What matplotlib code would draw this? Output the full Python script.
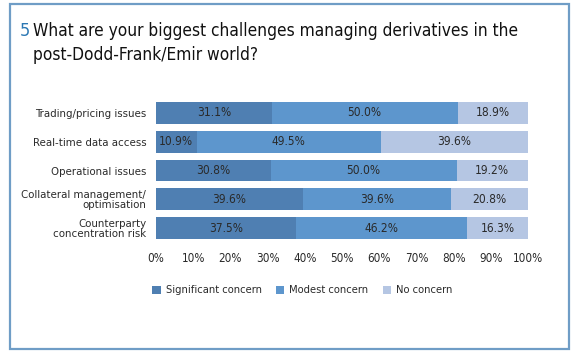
import matplotlib.pyplot as plt
from matplotlib.patches import Rectangle
import numpy as np

plt.rcParams['font.family'] = ['DejaVu Sans']
plt.rcParams['font.stretch'] = 'condensed'

categories = ["Trading/pricing issues", "Real-time data access", "Operational issues",
              "Collateral management/\noptimisation", "Counterparty\nconcentration risk"]
significant = [31.1, 10.9, 30.8, 39.6, 37.5]
modest = [50.0, 49.5, 50.0, 39.6, 46.2]
no_concern = [18.9, 39.6, 19.2, 20.8, 16.3]
series_names = ["Significant concern", "Modest concern", "No concern"]
colors = ["#4f7fb2", "#5d96cd", "#b5c6e3"]

W, H = 580, 358
fig = plt.figure(figsize=(W / 100, H / 100), dpi=100)

# outer frame
fig.patches.append(Rectangle((10 / W, 1 - 349 / H), 559 / W, 345 / H, transform=fig.transFigure,
                             fill=False, edgecolor="#6f9dc6", linewidth=1.6))

fig.text(20 / W, 1 - 31 / H, "5", color="#2c78b4", fontsize=13, va="center", ha="left")
fig.text(33 / W, 1 - 31 / H, "What are your biggest challenges managing derivatives in the",
         fontsize=12.4, va="center", ha="left", color="#111111")
fig.text(33 / W, 1 - 55 / H, "post-Dodd-Frank/Emir world?", fontsize=12.4, va="center",
         ha="left", color="#111111")

ax = fig.add_axes([156 / W, 1 - 242.5 / H, 372 / W, 144 / H])
y = np.arange(len(categories))
left = np.zeros(len(categories))
for vals, name, col in zip([significant, modest, no_concern], series_names, colors):
    vals = np.array(vals)
    bars = ax.barh(y, vals, left=left, height=0.76, color=col, label=name)
    for b, v in zip(bars, vals):
        ax.text(b.get_x() + b.get_width() / 2, b.get_y() + b.get_height() / 2, "%.1f%%" % v,
                ha="center", va="center", fontsize=8.6, color="#2a2a2a")
    left += vals

ax.set_xlim(0, 100)
ax.set_ylim(len(categories) - 0.5, -0.5)
ax.set_yticks(y)
ax.set_yticklabels(categories, fontsize=8.2, linespacing=0.95, color="#2a2a2a")
ax.set_xticks(np.arange(0, 101, 10))
ax.set_xticklabels(["%d%%" % t for t in range(0, 101, 10)], fontsize=8.4, color="#2a2a2a")
ax.tick_params(length=0)
ax.tick_params(axis="y", pad=7)
ax.tick_params(axis="x", pad=7)
for s in ax.spines.values():
    s.set_visible(False)

leg = ax.legend(loc="center", bbox_to_anchor=(0.394, -0.333), ncol=3, frameon=False,
                fontsize=8.0, handlelength=0.75, handleheight=0.75, handletextpad=0.45,
                columnspacing=1.3)
for t in leg.get_texts():
    t.set_color("#2a2a2a")

fig.savefig("out.png", dpi=100)
